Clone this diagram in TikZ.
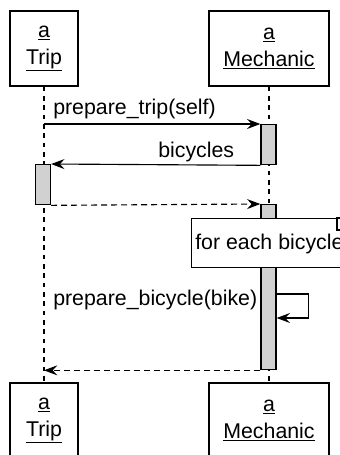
\documentclass[tikz,border=0pt]{standalone}
\usepackage{fontspec}
\setmainfont{Liberation Sans}
\usetikzlibrary{arrows.meta}

\begin{document}
\begin{tikzpicture}[x=0.75pt,y=0.75pt,yscale=-1,xscale=1,
  font=\fontsize{16}{18.5}\selectfont,
  obj/.style={draw,line width=1pt,minimum height=56.25pt,align=center,inner sep=0pt,
    font=\fontsize{16}{20.5}\selectfont},
  act/.style={draw,line width=1pt,fill=black!18,minimum width=11.25pt,inner sep=0pt,anchor=north},
  life/.style={line width=0.8pt,dash pattern=on 3.5pt off 3.5pt},
  msg/.style={line width=0.85pt,-{Stealth[length=10pt,width=7.5pt,inset=3.5pt]}},
  ret/.style={msg,dash pattern=on 4.5pt off 3pt},
  lbl/.style={anchor=base west,inner sep=0pt}]
\useasboundingbox (0,0) rectangle (340,455);
%Lifeline heads
\node[obj,minimum width=51pt] (tripT) at (44,48.5) {\underline{a}\\\underline{Trip}};
\node[obj,minimum width=90pt] (mechT) at (269,48.5) {\underline{a}\\\underline{Mechanic}};
%Lifeline feet
\node[obj,minimum width=51pt] (tripB) at (44,420.5) {\underline{a}\\\underline{Trip}};
\node[obj,minimum width=90pt] (mechB) at (269,420.5) {\underline{a}\\\underline{Mechanic}};
%Lifelines
\draw[life] (tripT.south) -- (tripB.north);
\draw[life] (mechT.south) -- (mechB.north);
%Activations
\node[act,minimum height=30pt] (mact1) at (268.5,124) {};
\node[act,minimum height=30pt] (tact) at (43,164) {};
\node[act,minimum height=123.75pt] (mact2) at (268.5,204) {};
%Loop frame
\node[draw,line width=1pt,fill=white,minimum width=127.5pt,minimum height=36.75pt,anchor=north west,inner sep=0pt] (loop) at (191,218) {};
\draw[line width=0.8pt] (337,218) rectangle (350,230);
\node[lbl] (looplbl) at (195,249) {for each bicycle};
%Messages
\draw[msg] (tripT.south |- mact1.north) -- (mact1.north west);
\node[lbl] (m1lbl) at (53,114) {prepare\_trip(self)};
\draw[msg] (mact1.south west) -- (tact.north east);
\node[lbl] (m2lbl) at (158,157) {bicycles};
\draw[ret] (tact.south east) -- (mact2.north west);
\coordinate (selfout) at (mact2.north east |- 0,294);
\coordinate (selfin) at (mact2.north east |- 0,318);
\draw[msg] (selfout) -- ++(32,0) |- (selfin);
\node[lbl] (m3lbl) at (53,305) {prepare\_bicycle(bike)};
\draw[ret] (mact2.south west) -- (tripT.south |- mact2.south);
\end{tikzpicture}
\end{document}
